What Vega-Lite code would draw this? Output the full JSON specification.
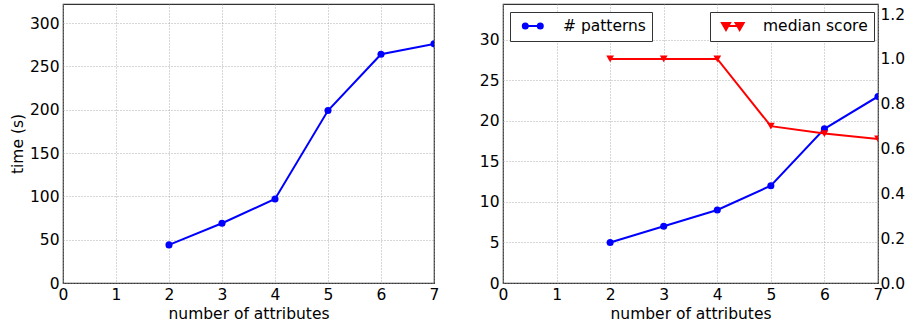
{
  "$schema": "https://vega.github.io/schema/vega-lite/v6.json",
  "background": "white",
  "padding": {"left": 9, "top": 3, "right": 5, "bottom": 0},
  "datasets": {
    "runs": [
      {"attributes": 2, "time": 44, "patterns": 5, "score": 1.0},
      {"attributes": 3, "time": 69, "patterns": 7, "score": 1.0},
      {"attributes": 4, "time": 97, "patterns": 9, "score": 1.0},
      {"attributes": 5, "time": 199, "patterns": 12, "score": 0.7},
      {"attributes": 6, "time": 264, "patterns": 19, "score": 0.667},
      {"attributes": 7, "time": 276, "patterns": 23, "score": 0.643}
    ]
  },
  "hconcat": [
    {
      "width": 371,
      "height": 279,
      "data": {"name": "runs"},
      "mark": {"type": "line", "color": "#0000ff", "strokeWidth": 2, "clip": true,
               "point": {"filled": true, "size": 50, "color": "#0000ff"}},
      "encoding": {
        "x": {"field": "attributes", "type": "quantitative",
              "scale": {"domain": [0, 7], "nice": false},
              "axis": {"values": [0, 1, 2, 3, 4, 5, 6, 7], "format": "d", "title": "number of attributes"}},
        "y": {"field": "time", "type": "quantitative",
              "scale": {"domain": [0, 322], "nice": false},
              "axis": {"values": [0, 50, 100, 150, 200, 250, 300], "format": "d", "title": "time (s)"}}
      }
    },
    {
      "width": 375,
      "height": 279,
      "data": {"name": "runs"},
      "layer": [
        {
          "mark": {"type": "line", "strokeWidth": 2, "clip": true,
                   "point": {"filled": true, "size": 50}},
          "encoding": {
            "x": {"field": "attributes", "type": "quantitative",
                  "scale": {"domain": [0, 7], "nice": false},
                  "axis": {"values": [0, 1, 2, 3, 4, 5, 6, 7], "format": "d", "title": "number of attributes"}},
            "y": {"field": "patterns", "type": "quantitative",
                  "scale": {"domain": [0, 34.4], "nice": false},
                  "axis": {"values": [0, 5, 10, 15, 20, 25, 30], "format": "d", "title": null}},
            "color": {"datum": "# patterns", "type": "nominal",
                      "scale": {"range": ["#0000ff"]},
                      "legend": {
                        "title": null, "orient": "none", "legendX": 7, "legendY": 8,
                        "symbolType": "M-0.447,0L0.553,0M-0.614,0A0.167,0.167,0,1,0,-0.28,0A0.167,0.167,0,1,0,-0.614,0M0.386,0A0.167,0.167,0,1,0,0.72,0A0.167,0.167,0,1,0,0.386,0",
                        "symbolSize": 900, "symbolStrokeWidth": 2, "clipHeight": 16,
                        "labelOffset": 15, "labelFontSize": 15.5, "labelColor": "black",
                        "padding": 6, "strokeColor": "#333", "fillColor": "white", "cornerRadius": 0,
                        "encode": {"symbols": {"update": {"fill": {"value": "#0000ff"}, "stroke": {"value": "#0000ff"}, "opacity": {"value": 1}}}}
                      }}
          }
        },
        {
          "mark": {"type": "line", "strokeWidth": 2, "clip": true,
                   "point": {"filled": true, "size": 60, "shape": "triangle-down"}},
          "encoding": {
            "x": {"field": "attributes", "type": "quantitative",
                  "scale": {"domain": [0, 7], "nice": false}},
            "y": {"field": "score", "type": "quantitative",
                  "scale": {"domain": [0, 1.245], "nice": false},
                  "axis": {"orient": "right", "values": [0, 0.2, 0.4, 0.6, 0.8, 1.0, 1.2], "format": ".1f", "title": null, "grid": false, "labelPadding": 2}},
            "color": {"datum": "median score", "type": "nominal",
                      "scale": {"range": ["#ff0000"]},
                      "legend": {
                        "title": null, "orient": "none", "legendX": 207, "legendY": 8,
                        "symbolType": "M-0.4,0L0.51,0M-0.667,-0.2L-0.133,-0.2L-0.4,0.267ZM0.243,-0.2L0.777,-0.2L0.51,0.267Z",
                        "symbolSize": 900, "symbolStrokeWidth": 2, "clipHeight": 16,
                        "labelOffset": 15, "labelFontSize": 15.5, "labelColor": "black",
                        "padding": 6, "strokeColor": "#333", "fillColor": "white", "cornerRadius": 0,
                        "encode": {"symbols": {"update": {"fill": {"value": "#ff0000"}, "stroke": {"value": "#ff0000"}, "opacity": {"value": 1}}}}
                      }}
          }
        }
      ],
      "resolve": {"scale": {"y": "independent", "color": "independent"}, "legend": {"color": "independent"}}
    }
  ],
  "spacing": 38,
  "config": {
    "font": "DejaVu Sans",
    "view": {"stroke": "#333", "strokeWidth": 1.2},
    "axis": {
      "domain": false, "ticks": false, "grid": true,
      "gridDash": [1, 2], "gridColor": "#999", "gridWidth": 0.8,
      "labelFontSize": 15.5, "titleFontSize": 15.5, "labelColor": "black", "titleColor": "black",
      "titleFontWeight": "normal", "labelPadding": 4, "labelFlush": false, "labelOverlap": false,
      "titlePadding": 4
    }
  }
}
